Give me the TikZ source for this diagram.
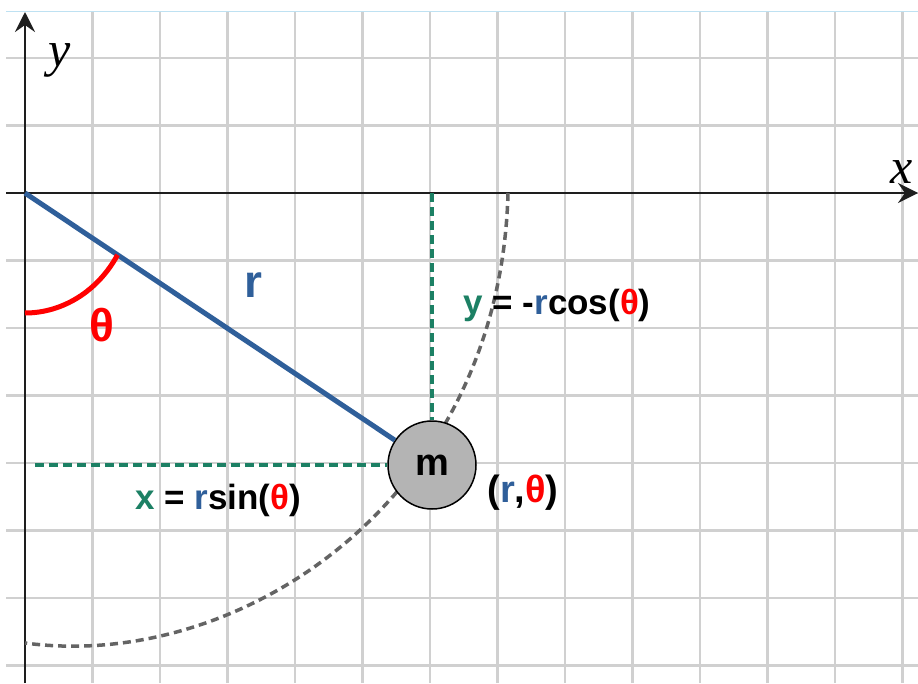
\documentclass[tikz,border=0pt]{standalone}
\usepackage{fontspec}
\setmainfont{Liberation Sans}
\newfontfamily\axfont{Liberation Serif}
\usetikzlibrary{arrows.meta}
\definecolor{gridc}{RGB}{208,208,208}
\definecolor{topc}{RGB}{190,225,242}
\definecolor{rblue}{RGB}{47,95,154}
\definecolor{gteal}{RGB}{28,128,100}
\definecolor{tred}{RGB}{255,0,0}
\definecolor{arcg}{RGB}{100,100,100}
\definecolor{massg}{RGB}{180,180,180}
\definecolor{axc}{RGB}{30,30,30}
\begin{document}
\begin{tikzpicture}[x=1pt,y=1pt,
  gridline/.style={gridc,line width=2.8pt},
  axisline/.style={axc,line width=2.8pt,-{Stealth[length=20pt,width=20pt,inset=7pt]}},
  greendash/.style={gteal,line width=4.8pt,dash pattern=on 9pt off 5pt},
  pathdash/.style={arcg,line width=3.5pt,dash pattern=on 8pt off 5pt},
  eqtext/.style={font=\fontsize{35}{42}\selectfont\bfseries,inner sep=0pt},
  biglbl/.style={font=\fontsize{46}{54}\selectfont\bfseries,inner sep=0pt},
  axlbl/.style={font=\axfont\itshape\fontsize{50}{60}\selectfont,inner sep=0pt}
]
\useasboundingbox (-25,-490) rectangle (893,193);
\fill[white] (-25,-490) rectangle (893,193);
% grid
\foreach \k in {1,...,13} \draw[gridline] (67.5*\k,-490) -- (67.5*\k,181);
\foreach \k in {-7,...,2} \draw[gridline] (-19,67.5*\k) -- (893,67.5*\k);
\draw[topc,line width=1pt] (-19,181) -- (893,181);
% axes
\coordinate (yb) at (0,-490);
\coordinate (yt) at (0,181);
\coordinate (xl) at (-19,0);
\coordinate (xr) at (893,0);
\draw[axisline] (yb) -- (yt);
\draw[axisline] (xl) -- (xr);
\node[axlbl] (ylab) at (35,133) {y};
\node[axlbl] (xlab) at (877,21) {x};
% path of the mass
\coordinate (a0) at (483,0);
\coordinate (a1) at (0,-450);
\draw[pathdash] (a0) .. controls (475,-307) and (215,-479) .. (a1);
% mass
\coordinate (O) at (0,0);
\node[circle,draw=black,fill=massg,minimum size=88pt,line width=1.5pt,inner sep=0pt,
      font=\fontsize{38}{44}\selectfont\bfseries] (m) at (407,-272) {m};
% projections
\coordinate (gt) at (407,0);
\coordinate (gl) at (10,-272);
\draw[greendash] (gt) -- (m.north);
\draw[greendash] (gl) -- (m.west);
% rod
\draw[rblue,line width=5pt] (O) -- (m);
% angle
\draw[tred,line width=5pt] (0,-120) arc[start angle=-90,end angle=-31.03,x radius=108,y radius=120];
% labels
\node[biglbl,text=rblue] (rl) at (228,-92) {r};
\node[biglbl,text=tred] (thl) at (77,-132) {θ};
\node[eqtext] (yeq) at (532,-112) {\textcolor{gteal}{y} = -\textcolor{rblue}{r}cos(\textcolor{tred}{θ})};
\node[eqtext] (xeq) at (193,-307) {\textcolor{gteal}{x} = \textcolor{rblue}{r}sin(\textcolor{tred}{θ})};
\node[font=\fontsize{38}{44}\selectfont\bfseries,inner sep=0pt] (pol) at (498,-300) {(\textcolor{rblue}{r},\textcolor{tred}{θ})};
\end{tikzpicture}
\end{document}
